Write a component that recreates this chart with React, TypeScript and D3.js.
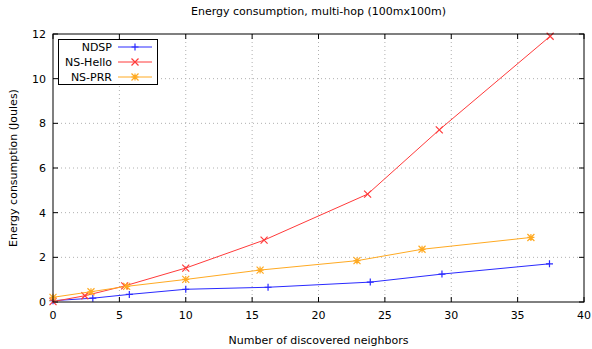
import React from "react";
import * as d3 from "d3";

const title = "Energy consumption, multi-hop (100mx100m)";
const xLabel = "Number of discovered neighbors";
const yLabel = "Energy consumption (Joules)";
const xTicks = [0, 5, 10, 15, 20, 25, 30, 35, 40];
const yTicks = [0, 2, 4, 6, 8, 10, 12];

const ndspX = [0, 3.0, 5.75, 10.0, 16.2, 23.9, 29.3, 37.4];
const ndspY = [0.06, 0.17, 0.34, 0.57, 0.66, 0.89, 1.25, 1.71];
const helloX = [0, 2.4, 5.4, 10.0, 15.9, 23.7, 29.1, 37.45];
const helloY = [0.02, 0.28, 0.72, 1.52, 2.77, 4.83, 7.71, 11.9];
const prrX = [0, 2.86, 5.55, 10.0, 15.6, 22.9, 27.8, 36.0];
const prrY = [0.21, 0.46, 0.7, 1.01, 1.43, 1.85, 2.36, 2.89];

const seriesNames = ["NDSP", "NS-Hello", "NS-PRR"];
const seriesColors = ["#2a2aff", "#ff3a3a", "#ffaa22"];

const W = 592, H = 349;
const M = { left: 53, right: 584, top: 34, bottom: 302 };
const font = "DejaVu Sans, Verdana, sans-serif";

function Marker({ kind, x, y, color }: { kind: number; x: number; y: number; color: string }) {
  const s = 3.5;
  const plus = `M${x - s},${y}H${x + s}M${x},${y - s}V${y + s}`;
  const cross = `M${x - s},${y - s}L${x + s},${y + s}M${x - s},${y + s}L${x + s},${y - s}`;
  const d = kind === 0 ? plus : kind === 1 ? cross : plus + cross;
  return <path d={d} stroke={color} strokeWidth={1.2} fill="none" />;
}

export default function App() {
  const x = d3.scaleLinear().domain([0, 40]).range([M.left, M.right]);
  const y = d3.scaleLinear().domain([0, 12]).range([M.bottom, M.top]);
  const series = [
    { xs: ndspX, ys: ndspY },
    { xs: helloX, ys: helloY },
    { xs: prrX, ys: prrY },
  ];
  const line = d3.line<[number, number]>().x((d) => x(d[0])).y((d) => y(d[1]));
  const tl = 5;
  return (
    <svg width={W} height={H} style={{ position: "absolute", left: 0, top: 0, background: "#fff" }}>
      <rect x={0} y={0} width={W} height={H} fill="#fff" />
      {/* grid */}
      {xTicks.slice(1, -1).map((t) => (
        <line key={"gx" + t} x1={x(t)} x2={x(t)} y1={M.top} y2={M.bottom} stroke="#b0b0b0" strokeWidth={1} strokeDasharray="1,3" />
      ))}
      {yTicks.slice(1, -1).map((t) => (
        <line key={"gy" + t} x1={M.left} x2={M.right} y1={y(t)} y2={y(t)} stroke="#b0b0b0" strokeWidth={1} strokeDasharray="1,3" />
      ))}
      {/* ticks */}
      {xTicks.map((t) => (
        <g key={"tx" + t}>
          <line x1={x(t)} x2={x(t)} y1={M.bottom} y2={M.bottom - tl} stroke="#000" />
          <line x1={x(t)} x2={x(t)} y1={M.top} y2={M.top + tl} stroke="#000" />
          <text x={x(t)} y={M.bottom + 17} fontSize={11} fontFamily={font} textAnchor="middle" fill="#000">{t}</text>
        </g>
      ))}
      {yTicks.map((t) => (
        <g key={"ty" + t}>
          <line x1={M.left} x2={M.left + tl} y1={y(t)} y2={y(t)} stroke="#000" />
          <line x1={M.right} x2={M.right - tl} y1={y(t)} y2={y(t)} stroke="#000" />
          <text x={M.left - 7} y={y(t) + 4} fontSize={11} fontFamily={font} textAnchor="end" fill="#000">{t}</text>
        </g>
      ))}
      {/* series */}
      {series.map((s, i) => {
        const pts = s.xs.map((v, j) => [v, s.ys[j]] as [number, number]);
        return (
          <g key={"s" + i}>
            <path d={line(pts) || ""} fill="none" stroke={seriesColors[i]} strokeWidth={1} />
            {pts.map((p, j) => (
              <Marker key={j} kind={i} x={x(p[0])} y={y(p[1])} color={seriesColors[i]} />
            ))}
          </g>
        );
      })}
      {/* border */}
      <rect x={M.left} y={M.top} width={M.right - M.left} height={M.bottom - M.top} fill="none" stroke="#000" strokeWidth={1} />
      {/* legend */}
      <rect x={58.5} y={39.5} width={99} height={45} fill="#fff" stroke="#000" strokeWidth={1} />
      {seriesNames.map((n, i) => {
        const ly = 47 + i * 15;
        return (
          <g key={"l" + i}>
            <text x={112} y={ly + 4} fontSize={11} fontFamily={font} textAnchor="end" fill="#000">{n}</text>
            <line x1={118} x2={152} y1={ly} y2={ly} stroke={seriesColors[i]} strokeWidth={1} />
            <Marker kind={i} x={135} y={ly} color={seriesColors[i]} />
          </g>
        );
      })}
      {/* labels */}
      <text x={(M.left + M.right) / 2} y={15} fontSize={11} fontFamily={font} textAnchor="middle" fill="#000">{title}</text>
      <text x={(M.left + M.right) / 2} y={344} fontSize={11} fontFamily={font} textAnchor="middle" fill="#000">{xLabel}</text>
      <text transform={`translate(17,${(M.top + M.bottom) / 2}) rotate(-90)`} fontSize={11} fontFamily={font} textAnchor="middle" fill="#000">{yLabel}</text>
    </svg>
  );
}
